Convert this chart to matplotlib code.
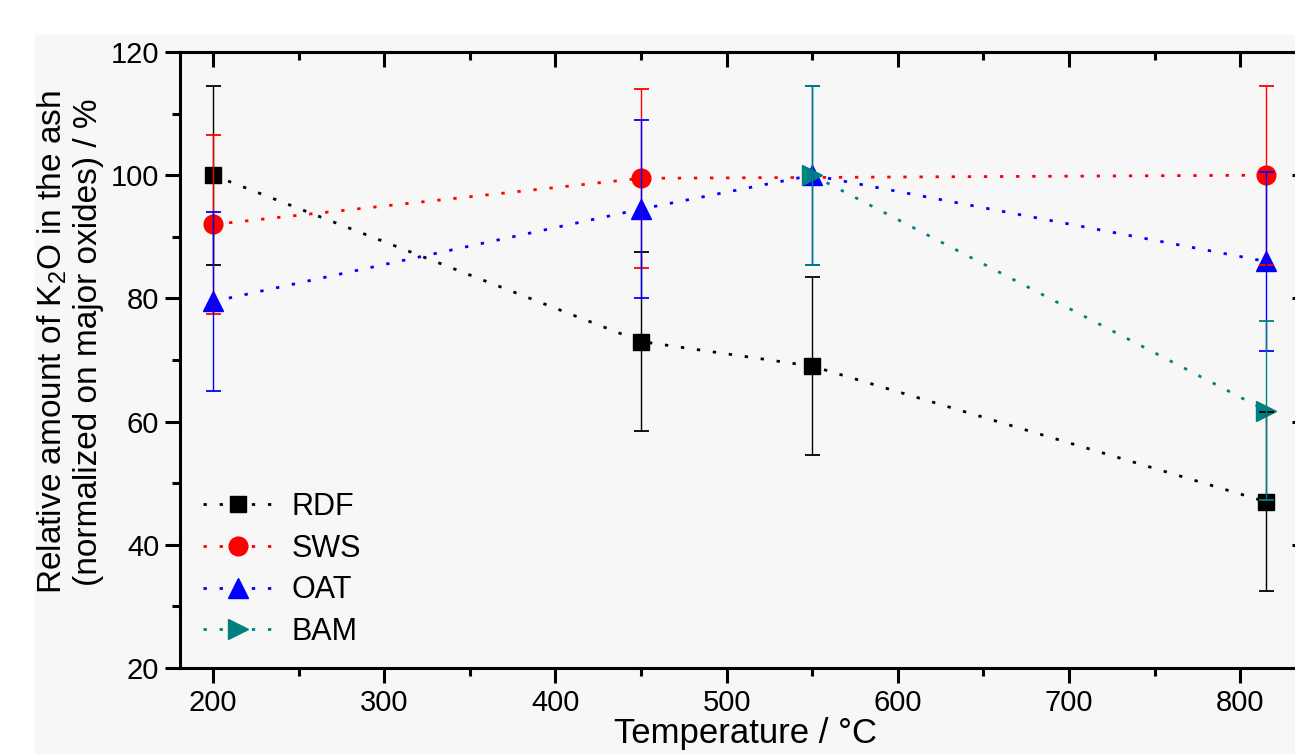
import matplotlib
matplotlib.use("Agg")
import matplotlib.pyplot as plt
from matplotlib.patches import Rectangle
from matplotlib.ticker import MultipleLocator

# ---- data ----
rdf_t = [200, 450, 550, 815]
rdf_v = [100, 73, 69, 47]
rdf_e = [14.5, 14.5, 14.5, 14.5]

sws_t = [200, 450, 815]
sws_v = [92, 99.5, 100]
sws_e = [14.5, 14.5, 14.5]

oat_t = [200, 450, 550, 815]
oat_v = [79.5, 94.5, 100, 86]
oat_e = [14.5, 14.5, 14.5, 14.5]

bam_t = [550, 815]
bam_v = [100, 61.8]
bam_e = [14.5, 14.5]

labels = ["RDF", "SWS", "OAT", "BAM"]
colors = ["#000000", "#ff0000", "#0000ff", "#008080"]
markers = ["s", "o", "^", ">"]
msizes = [12, 13.5, 15, 14.5]

plt.rcParams["font.family"] = ["Liberation Sans", "DejaVu Sans"]
plt.rcParams["mathtext.fontset"] = "custom"
plt.rcParams["mathtext.rm"] = "Liberation Sans"

W, H = 1295, 754
fig = plt.figure(figsize=(W / 100, H / 100), dpi=100)
fig.patch.set_facecolor("white")
fig.patches.append(Rectangle((35 / W, 0), 1, 1 - 35 / H, transform=fig.transFigure,
                             facecolor="#f7f7f7", edgecolor="none", zorder=-10))

left, right, top, bottom = 180, 1307, 52, 668
ax = fig.add_axes([left / W, 1 - bottom / H, (right - left) / W, (bottom - top) / H])
ax.set_facecolor("none")

series = [(rdf_t, rdf_v, rdf_e), (sws_t, sws_v, sws_e), (oat_t, oat_v, oat_e), (bam_t, bam_v, bam_e)]
handles = []
for i, ((t, v, e), lab, c, m, ms) in enumerate(zip(series, labels, colors, markers, msizes)):
    ax.errorbar(t, v, yerr=e, fmt="none", ecolor=c, elinewidth=1.0, capsize=5.4,
                capthick=1.3, zorder=3 + i * 0.1 + 0.5)
    h, = ax.plot(t, v, linestyle=(0, (1.2, 4.6)), linewidth=2.0, color=c,
                 marker=m, markersize=ms, markerfacecolor=c, markeredgecolor=c,
                 label=lab, zorder=3 + i * 0.1)
    handles.append(h)

ax.set_xlim(180.7, 839)
ax.set_ylim(20, 120)
ax.xaxis.set_major_locator(MultipleLocator(100))
ax.xaxis.set_minor_locator(MultipleLocator(50))
ax.yaxis.set_major_locator(MultipleLocator(20))
ax.yaxis.set_minor_locator(MultipleLocator(10))

for sp in ax.spines.values():
    sp.set_linewidth(2.2)

ax.tick_params(axis="both", which="major", direction="out", length=11, width=2.2,
               labelsize=21, pad=4)
ax.tick_params(axis="both", which="minor", direction="out", length=6, width=2.2)

secx = ax.secondary_xaxis("top")
secx.xaxis.set_major_locator(MultipleLocator(100))
secx.xaxis.set_minor_locator(MultipleLocator(50))
secx.tick_params(axis="x", which="major", direction="in", length=11, width=2.2, labeltop=False)
secx.tick_params(axis="x", which="minor", direction="in", length=6, width=2.2)
secx.spines["top"].set_linewidth(2.2)

secy = ax.secondary_yaxis("right")
secy.yaxis.set_major_locator(MultipleLocator(20))
secy.yaxis.set_minor_locator(MultipleLocator(10))
secy.tick_params(axis="y", which="major", direction="in", length=11, width=2.2, labelright=False)
secy.tick_params(axis="y", which="minor", direction="in", length=6, width=2.2)
secy.spines["right"].set_linewidth(2.2)

fig.text(745 / W, 1 - 733 / H, "Temperature / °C", fontsize=25, ha="center", va="center")
fig.text(52 / W, 1 - 342 / H, "Relative amount of K$_\\mathregular{2}$O in the ash",
         fontsize=24, rotation=90, ha="center", va="center")
fig.text(88 / W, 1 - 342 / H, "(normalized on major oxides) / %",
         fontsize=24, rotation=90, ha="center", va="center")

leg = ax.legend(handles=handles, loc="upper left", bbox_to_anchor=(203 / W, 1 - 492 / H),
                bbox_transform=fig.transFigure, frameon=False, fontsize=22,
                handlelength=2.26, handletextpad=0.65, labelspacing=0.38,
                borderpad=0, borderaxespad=0)

fig.savefig("out.png", dpi=100)
